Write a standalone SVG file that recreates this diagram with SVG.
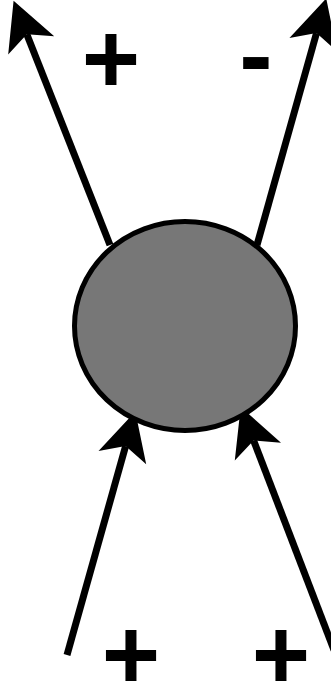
<svg xmlns="http://www.w3.org/2000/svg" width="331" height="684" viewBox="0 0 331 684">
<style>
.conn{stroke:#000;stroke-width:7;fill:none;marker-end:url(#arr)}
.lbl{font-family:"Liberation Sans",Arial,sans-serif;font-weight:bold;font-size:100px;fill:#000;text-anchor:middle}
</style>
<defs>
<marker id="arr" markerUnits="userSpaceOnUse" markerWidth="60" markerHeight="60" viewBox="-10 -20 40 40" refX="0" refY="0" orient="auto" overflow="visible">
<path d="M24,0 L-8,-16.5 L0,0 L-8,16.5 Z" fill="#000"/>
</marker>
</defs>
<rect width="331" height="684" fill="#fff"/>
<g id="connectors">
<path class="conn" d="M110,245 L26.8,34.3"/>
<path class="conn" d="M257,245 L316.5,33.1"/>
<path class="conn" d="M67,655 L125.6,446.1"/>
<path class="conn" d="M334,650 L253.6,440.4"/>
</g>
<g id="particle">
<ellipse cx="185" cy="326" rx="110.5" ry="104.5" fill="#777777" stroke="#000" stroke-width="5"/>
</g>
<g id="labels">
<text class="lbl" x="111" y="93">+</text>
<text class="lbl" x="256" y="89">-</text>
<text class="lbl" x="131" y="689">+</text>
<text class="lbl" x="281" y="689">+</text>
</g>
</svg>
